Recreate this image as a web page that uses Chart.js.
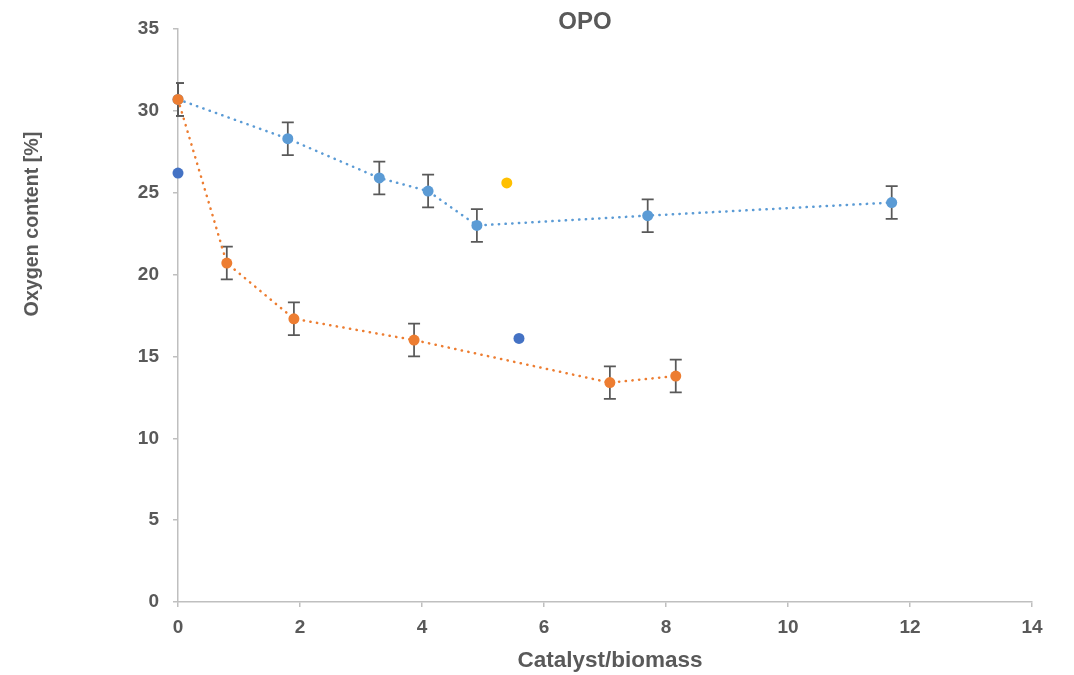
<!DOCTYPE html>
<html>
<head>
<meta charset="utf-8">
<script src="https://cdn.jsdelivr.net/npm/chart.js@4/dist/chart.umd.min.js"></script>
<style>
html,body{margin:0;padding:0;background:#fff;}
canvas{display:block;}
</style>
</head>
<body>
<canvas id="c" width="1074" height="675"></canvas>
<script>
// ---- data ----
const chartTitle = 'OPO';
const xAxisTitle = 'Catalyst/biomass';
const yAxisTitle = 'Oxygen content [%]';

const xBlue   = [0, 1.8, 3.3, 4.1, 4.9, 7.7, 11.7];
const yBlue   = [30.7, 28.3, 25.9, 25.1, 23.0, 23.6, 24.4];
const errBlue = [1, 1, 1, 1, 1, 1, 1];

const xOrange   = [0, 0.8, 1.9, 3.87, 7.08, 8.16];
const yOrange   = [30.7, 20.7, 17.3, 16.0, 13.4, 13.8];
const errOrange = [1, 1, 1, 1, 1, 1];

const xDark = [0, 5.59];
const yDark = [26.2, 16.1];

const xYellow = [5.39];
const yYellow = [25.6];

const xTicks = [0, 2, 4, 6, 8, 10, 12, 14];
const yTicks = [0, 5, 10, 15, 20, 25, 30, 35];

// ---- build ----
const pts = (xs, ys) => xs.map((x, i) => ({x: x, y: ys[i]}));
const FONT = '"Liberation Sans", Arial, sans-serif';
const GREY_TXT = '#595959';
const AXIS = '#bfbfbf';

const errorBarPlugin = {
  id: 'errorBars',
  beforeDatasetsDraw(chart) {
    const ctx = chart.ctx;
    const xs = chart.scales.x, ys = chart.scales.y;
    const area = chart.chartArea;
    ctx.save();
    ctx.beginPath();
    ctx.rect(area.left - 2, area.top - 20, area.right - area.left + 4, area.bottom - area.top + 40);
    ctx.clip();
    ctx.strokeStyle = '#595959';
    ctx.lineWidth = 1.75;
    chart.data.datasets.forEach((ds) => {
      if (!ds.errors) return;
      ds.data.forEach((p, i) => {
        const e = ds.errors[i];
        const px = xs.getPixelForValue(p.x);
        const top = ys.getPixelForValue(p.y + e);
        const bot = ys.getPixelForValue(p.y - e);
        ctx.beginPath();
        ctx.moveTo(px, top); ctx.lineTo(px, bot);
        ctx.moveTo(px - 6, top); ctx.lineTo(px + 6, top);
        ctx.moveTo(px - 6, bot); ctx.lineTo(px + 6, bot);
        ctx.stroke();
      });
    });
    ctx.restore();
  }
};

const titlesPlugin = {
  id: 'titles',
  afterDraw(chart) {
    const ctx = chart.ctx;
    ctx.save();
    ctx.fillStyle = GREY_TXT;
    ctx.textAlign = 'center';
    ctx.textBaseline = 'middle';
    ctx.font = 'bold 24px ' + FONT;
    ctx.fillText(chartTitle, 585, 22);
    ctx.font = 'bold 22.5px ' + FONT;
    ctx.fillText(xAxisTitle, 610, 661);
    ctx.font = 'bold 19.7px ' + FONT;
    ctx.translate(33, 224);
    ctx.rotate(-Math.PI / 2);
    ctx.fillText(yAxisTitle, 0, 0);
    ctx.restore();
  }
};

const dotted = {
  showLine: true,
  borderWidth: 2.5,
  borderCapStyle: 'round',
  borderDash: [0.3, 6.4],
  tension: 0,
  pointRadius: 5.5,
  pointHoverRadius: 5.5,
  pointBorderWidth: 0,
  clip: false
};

new Chart(document.getElementById('c'), {
  type: 'scatter',
  data: {
    datasets: [
      Object.assign({}, dotted, {
        label: 'Blue', data: pts(xBlue, yBlue), errors: errBlue,
        borderColor: '#5B9BD5', backgroundColor: '#5B9BD5', order: 2
      }),
      Object.assign({}, dotted, {
        label: 'Orange', data: pts(xOrange, yOrange), errors: errOrange,
        borderColor: '#ED7D31', backgroundColor: '#ED7D31', order: 1
      }),
      {
        label: 'Dark', data: pts(xDark, yDark), showLine: false,
        pointRadius: 5.5, pointBorderWidth: 0, clip: false,
        backgroundColor: '#4472C4', borderColor: '#4472C4', order: 0
      },
      {
        label: 'Yellow', data: pts(xYellow, yYellow), showLine: false,
        pointRadius: 5.5, pointBorderWidth: 0, clip: false,
        backgroundColor: '#FFC000', borderColor: '#FFC000', order: 0
      }
    ]
  },
  options: {
    responsive: false,
    animation: false,
    events: [],
    layout: { padding: { top: 29, right: 42, left: 0, bottom: 0 } },
    plugins: {
      legend: { display: false },
      tooltip: { enabled: false },
      title: { display: false }
    },
    scales: {
      x: {
        type: 'linear', min: 0, max: 14,
        afterFit(s) { s.height = 73; },
        afterBuildTicks(s) { s.ticks = xTicks.map(v => ({value: v})); },
        grid: { display: true, drawOnChartArea: false, drawTicks: true, tickLength: 5, color: AXIS, lineWidth: 1.5 },
        border: { display: true, color: AXIS, width: 1.5 },
        ticks: { color: GREY_TXT, padding: 9, font: { family: FONT, size: 19, weight: 'bold' }, maxRotation: 0 }
      },
      y: {
        type: 'linear', min: 0, max: 35,
        afterFit(s) { s.width = 178; },
        afterBuildTicks(s) { s.ticks = yTicks.map(v => ({value: v})); },
        grid: { display: true, drawOnChartArea: false, drawTicks: true, tickLength: 5, color: AXIS, lineWidth: 1.5 },
        border: { display: true, color: AXIS, width: 1.5 },
        ticks: { color: GREY_TXT, padding: 14, font: { family: FONT, size: 19, weight: 'bold' } }
      }
    }
  },
  plugins: [errorBarPlugin, titlesPlugin]
});
</script>
</body>
</html>
